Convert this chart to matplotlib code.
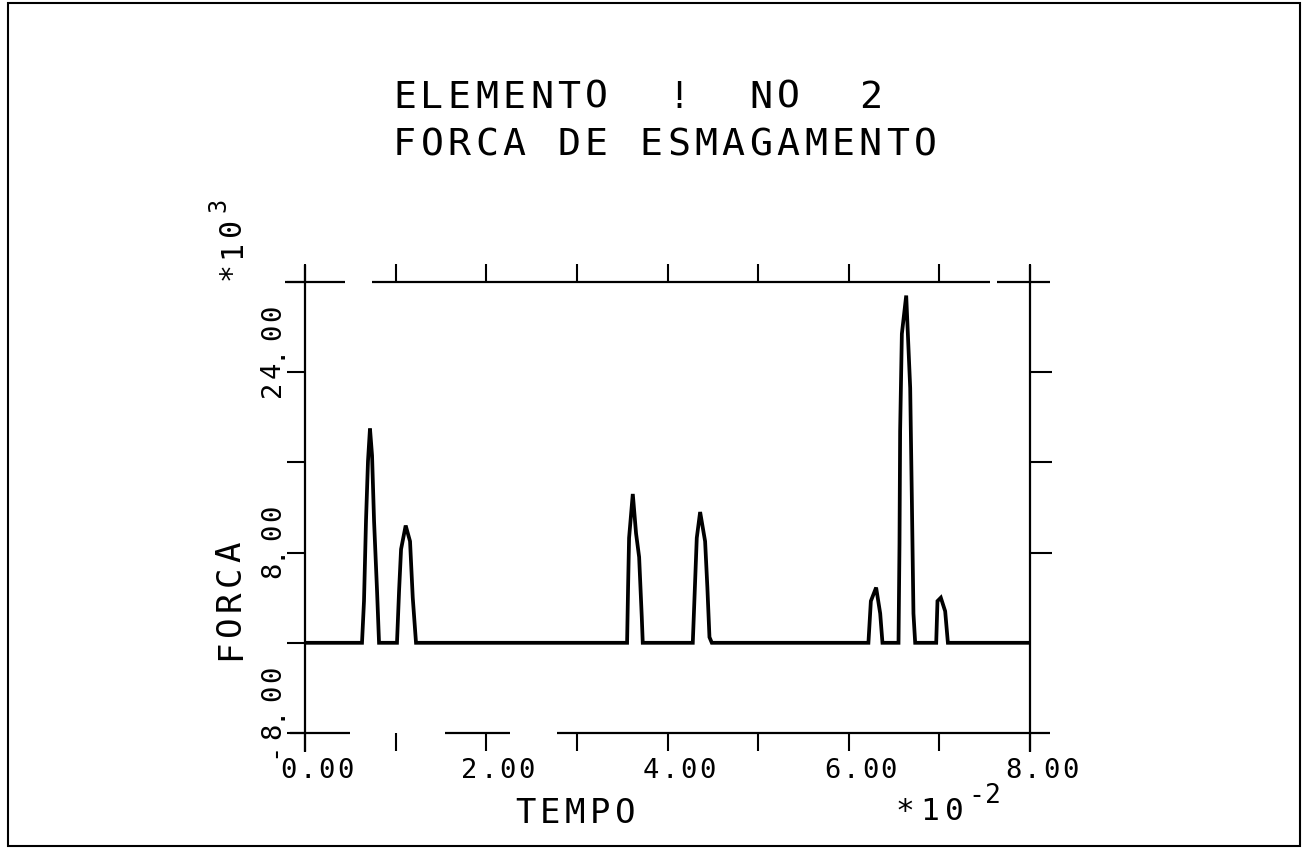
import matplotlib
matplotlib.use("Agg")
import matplotlib.pyplot as plt
from matplotlib.transforms import IdentityTransform

# --- data (TEMPO in units of 1e-2, FORCA in units of 1e3) ---
tempo = [0.0,
         0.629, 0.651, 0.673, 0.695, 0.717, 0.740, 0.762, 0.795, 0.817,
         1.015, 1.038, 1.060, 1.111, 1.159, 1.189, 1.225,
         3.554, 3.565, 3.576, 3.617, 3.653, 3.687, 3.716, 3.727,
         4.279, 4.305, 4.323, 4.360, 4.415, 4.440, 4.463, 4.489,
         6.217, 6.244, 6.302, 6.347, 6.372,
         6.549, 6.560, 6.567, 6.586, 6.634, 6.678, 6.696, 6.714, 6.733,
         6.965, 6.979, 7.016, 7.064, 7.094,
         8.0]
forca = [0.0,
         0.0, 3.7, 10.8, 16.1, 19.0, 16.6, 10.8, 4.6, 0.0,
         0.0, 4.6, 8.3, 10.4, 9.0, 4.0, 0.0,
         0.0, 4.9, 9.3, 13.2, 9.7, 7.6, 2.3, 0.0,
         0.0, 5.5, 9.3, 11.6, 9.0, 4.9, 0.5, 0.0,
         0.0, 3.7, 4.9, 2.6, 0.0,
         0.0, 8.8, 18.8, 27.4, 30.8, 22.6, 12.9, 2.6, 0.0,
         0.0, 3.7, 4.0, 2.8, 0.0,
         0.0]

x_ticks = list(range(0, 9))
y_ticks = list(range(-8, 33, 8))
right_ticks = [8, 16, 24]
x_labels = {0: "0.00", 2: "2.00", 4: "4.00", 6: "6.00", 8: "8.00"}
y_labels = {-8: "-8.00", 8: "8.00", 24: "24.00"}
title1 = "ELEMENTO  !  NO  2"
title2 = "FORCA DE ESMAGAMENTO"

W, H = 1306, 849
MONO = "DejaVu Sans Mono"

fig = plt.figure(figsize=(W / 100, H / 100), dpi=100)
fig.patch.set_facecolor("white")

# page border
fig.add_artist(plt.Rectangle((8 / W, 1 - 846 / H), 1292 / W, 843 / H,
                             transform=fig.transFigure, fill=False,
                             ec="black", lw=1.5))

ax = fig.add_axes([305 / W, 1 - 733 / H, 725 / W, 451 / H])
ax.plot(tempo, forca, color="black", lw=2.7, solid_joinstyle="miter")
ax.set_xlim(0, 8)
ax.set_ylim(-8, 32)
for s in ax.spines.values():
    s.set_visible(False)

# plotter style frame, lines slightly broken as in the original
fk = dict(color="black", lw=1.6, clip_on=False, solid_capstyle="butt")
for a, b in [(-0.17, 0.5), (1.545, 2.26), (2.78, 8.22)]:
    ax.plot([a, b], [-8, -8], **fk)
for a, b in [(-0.22, 0.44), (0.74, 7.56), (7.64, 8.22)]:
    ax.plot([a, b], [32, 32], **fk)
ax.plot([0, 0], [-9.7, 33.5], **fk)
ax.plot([8, 8], [-9.7, 33.5], **fk)

ax.set_xticks(x_ticks)
ax.set_yticks(y_ticks)
ax.tick_params(axis="x", bottom=True, top=True, direction="out",
               length=13, width=1.5, labelbottom=False)
ax.tick_params(axis="y", left=True, right=False, direction="out",
               length=13, width=1.5, labelleft=False)
sec = ax.secondary_yaxis("right")
sec.set_yticks(right_ticks)
sec.tick_params(direction="out", length=16, width=1.5, labelright=False)
sec.spines["right"].set_visible(False)


def spaced(x, y, s, pitch, size, vertical=False):
    # x, y in display pixels; one glyph per cell, like a pen plotter
    for i, ch in enumerate(s):
        if ch == " ":
            continue
        if vertical:
            fig.text(x, y + i * pitch, ch, rotation=90, rotation_mode="anchor",
                     ha="left", va="baseline", fontsize=size, family=MONO,
                     transform=IdentityTransform())
        else:
            fig.text(x + i * pitch, y, ch, ha="left", va="baseline",
                     fontsize=size, family=MONO, transform=IdentityTransform())


# title
spaced(393, H - 108, title1, 27.4, 27.5)
spaced(393, H - 155, title2, 27.4, 27.5)

# tick labels
for v, lab in x_labels.items():
    px, _ = ax.transData.transform((v, -8))
    spaced(px - 25, H - 778, lab, 19, 19.5)
for v, lab in y_labels.items():
    _, py = ax.transData.transform((0, v))
    spaced(280, py - 25, lab, 19, 19.5, vertical=True)

# axis names and multipliers
spaced(515, H - 823, "TEMPO", 25, 24.5)
spaced(240, H - 660, "FORCA", 24.5, 24.5, vertical=True)
spaced(895, H - 820, "*10", 25, 22.5)
spaced(968, H - 803, "-2", 17, 19)
spaced(240, H - 280, "*10", 22, 21.5, vertical=True)
spaced(225, H - 212, "3", 17, 17, vertical=True)

fig.savefig("out.png", dpi=100)
